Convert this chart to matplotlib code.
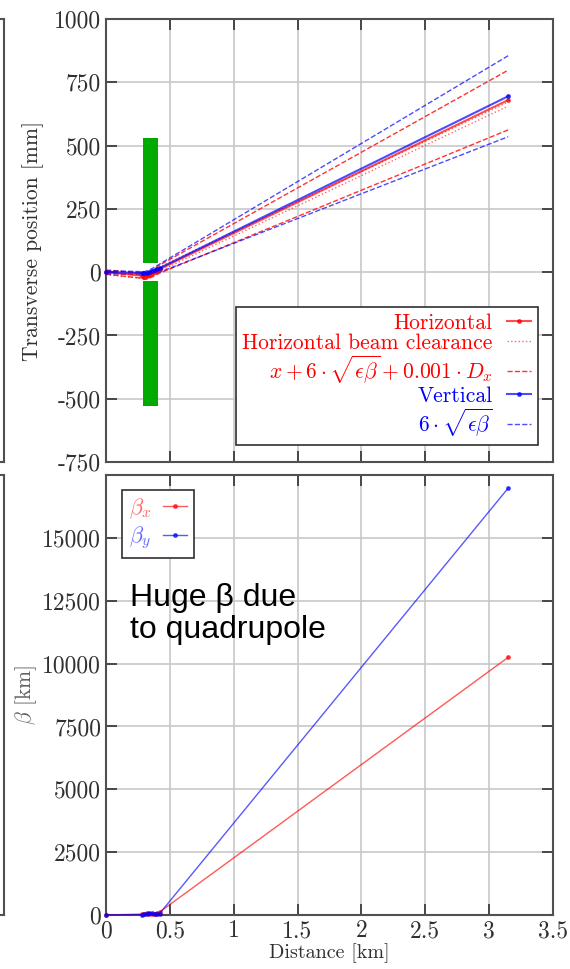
import numpy as np
import matplotlib.pyplot as plt

# beamline sample points [km]
dist = [0.0, 0.28, 0.30, 0.32, 0.34, 0.36, 0.38, 0.40, 0.42, 3.15]

# closed orbit and envelopes [mm]
x_orbit = [0, -14, -18, -16, -12, -6, 0, 6, 12, 680]
y_orbit = [0, -4, -5, -3, 0, 4, 8, 12, 16, 695]
x_env = [8, 10, 10, 11, 12, 13, 14, 15, 16, 118]
y_env = [6, 6, 7, 8, 9, 10, 12, 14, 16, 160]
clear_up = [10, -6, -10, -8, -4, 2, 8, 14, 20, 672]
clear_lo = [-10, -24, -28, -26, -20, -14, -8, -2, 4, 656]

# beta functions [km]
beta_x = [5, 30, 50, 80, 60, 40, 60, 90, 120, 10250]
beta_y = [5, 20, 40, 60, 90, 70, 50, 40, 60, 16980]

# quadrupole aperture: (s_start, s_end), (gap, outer) [mm]
quad_s = [0.29, 0.41]
quad_y = [35, 530]

x_ticks = [0, 0.5, 1, 1.5, 2, 2.5, 3, 3.5]
x_ticklabels = ['0', '0.5', '1', '1.5', '2', '2.5', '3', '3.5']
top_yticks = [-750, -500, -250, 0, 250, 500, 750, 1000]
bot_yticks = [0, 2500, 5000, 7500, 10000, 12500, 15000]

plt.rcParams['font.family'] = 'serif'
plt.rcParams['font.serif'] = ['cmr10']
plt.rcParams['mathtext.fontset'] = 'cm'
plt.rcParams['axes.unicode_minus'] = False
plt.rcParams['axes.formatter.use_mathtext'] = True

RED = '#ff0000'
BLUE = '#0000ff'


def style_axes(ax):
    ax.grid(True, color='#c8c8c8', linewidth=1.2)
    ax.set_axisbelow(True)
    ax.tick_params(direction='in', length=8, width=1.2, top=True, right=True,
                   labelsize=17, color='#303030', labelcolor='#303030')
    for sp in ax.spines.values():
        sp.set_color('#505050')
        sp.set_linewidth(1.5)


def main():
    fig = plt.figure(figsize=(5.7, 9.69), dpi=100)

    # edge of the neighbouring panels
    for y0, h in [(0.5232, 0.4572), (0.0557, 0.4541)]:
        ghost = fig.add_axes([-0.2, y0, 0.207, h])
        ghost.set_xticks([])
        ghost.set_yticks([0.2, 0.4, 0.6, 0.8])
        ghost.set_yticklabels([])
        ghost.tick_params(direction='in', length=6, color='#303030')
        for sp in ghost.spines.values():
            sp.set_color('#505050')
            sp.set_linewidth(1.5)

    ax1 = fig.add_axes([0.186, 0.5232, 0.784, 0.4572])
    ax2 = fig.add_axes([0.186, 0.0557, 0.784, 0.4541])

    # --- transverse position ---
    style_axes(ax1)
    ax1.fill_between(quad_s, quad_y[0], quad_y[1], color='#00aa00', lw=0, zorder=2)
    ax1.fill_between(quad_s, -quad_y[1], -quad_y[0], color='#00aa00', lw=0, zorder=2)

    xo = np.array(x_orbit)
    yo = np.array(y_orbit)
    xe = np.array(x_env)
    ye = np.array(y_env)

    h_line, = ax1.plot(dist, x_orbit, '-', color=RED, marker='.', ms=5, lw=1.5,
                       alpha=0.7, zorder=4, clip_on=False)
    h_clear, = ax1.plot(dist, clear_up, ':', color=RED, lw=1, alpha=0.6, zorder=3)
    ax1.plot(dist, clear_lo, ':', color=RED, lw=1, alpha=0.6, zorder=3)
    h_env, = ax1.plot(dist, xo + xe, '--', color=RED, lw=1, alpha=0.8, zorder=3)
    ax1.plot(dist, xo - xe, '--', color=RED, lw=1, alpha=0.8, zorder=3)
    v_line, = ax1.plot(dist, y_orbit, '-', color=BLUE, marker='.', ms=5, lw=1.5,
                       alpha=0.7, zorder=4, clip_on=False)
    v_env, = ax1.plot(dist, yo + ye, '--', color=BLUE, lw=1, alpha=0.7, zorder=3)
    ax1.plot(dist, yo - ye, '--', color=BLUE, lw=1, alpha=0.7, zorder=3)

    ax1.set_xlim(0, 3.5)
    ax1.set_ylim(-750, 1000)
    ax1.set_xticks(x_ticks)
    ax1.set_xticklabels([])
    ax1.set_yticks(top_yticks)
    ax1.set_yticklabels([str(t) for t in top_yticks])
    ax1.set_ylabel('Transverse position [mm]', fontsize=15.5, color='#303030')
    ax1.yaxis.set_label_coords(-0.139, 0.5)

    leg = ax1.legend([h_line, h_clear, h_env, v_line, v_env],
                     ['Horizontal', 'Horizontal beam clearance',
                      r'$x+6\cdot\sqrt{\epsilon\beta}+0.001\cdot D_x$',
                      'Vertical', r'$6\cdot\sqrt{\epsilon\beta}$'],
                     loc='lower right', bbox_to_anchor=(0.9664, 0.038),
                     borderaxespad=0, markerfirst=False, fontsize=15.5,
                     fancybox=False, framealpha=1, edgecolor='#303030',
                     handlelength=1.15, handletextpad=0.65, labelspacing=0.03,
                     borderpad=0.3)
    leg.get_frame().set_linewidth(1.2)
    for txt, c in zip(leg.get_texts(), [RED, RED, RED, BLUE, BLUE]):
        txt.set_color(c)

    # --- beta functions ---
    style_axes(ax2)
    bx, = ax2.plot(dist, beta_x, '-', color=RED, marker='.', ms=5, lw=1, alpha=0.65,
                   clip_on=False, zorder=4)
    by, = ax2.plot(dist, beta_y, '-', color=BLUE, marker='.', ms=5, lw=1, alpha=0.65,
                   clip_on=False, zorder=4)
    ax2.set_xlim(0, 3.5)
    ax2.set_ylim(0, 17500)
    ax2.set_xticks(x_ticks)
    ax2.set_xticklabels(x_ticklabels)
    ax2.set_yticks(bot_yticks)
    ax2.set_yticklabels([str(t) for t in bot_yticks])
    ax2.set_xlabel('Distance [km]', fontsize=14.5, labelpad=1, color='#303030')
    ax2.set_ylabel(r'$\beta$ [km]', fontsize=15.5, color='#606060')
    ax2.yaxis.set_label_coords(-0.15, 0.5)

    leg2 = ax2.legend([bx, by], [r'$\beta_x$', r'$\beta_y$'], loc='upper left',
                      bbox_to_anchor=(0.036, 0.967),
                      markerfirst=False, fontsize=16, fancybox=False,
                      framealpha=1, edgecolor='#303030', handlelength=1.1,
                      handletextpad=0.5, labelspacing=0.15, borderpad=0.3,
                      borderaxespad=0)
    leg2.get_frame().set_linewidth(1.2)
    for txt, c in zip(leg2.get_texts(), [RED, BLUE]):
        txt.set_color(c)
        txt.set_alpha(0.6)

    ax2.text(0.19, 13190, 'Huge β due\nto quadrupole', family='Liberation Sans',
             fontsize=23, va='top', ha='left', linespacing=1.05, color='black')

    fig.savefig('out.png', dpi=100)


if __name__ == '__main__':
    main()
